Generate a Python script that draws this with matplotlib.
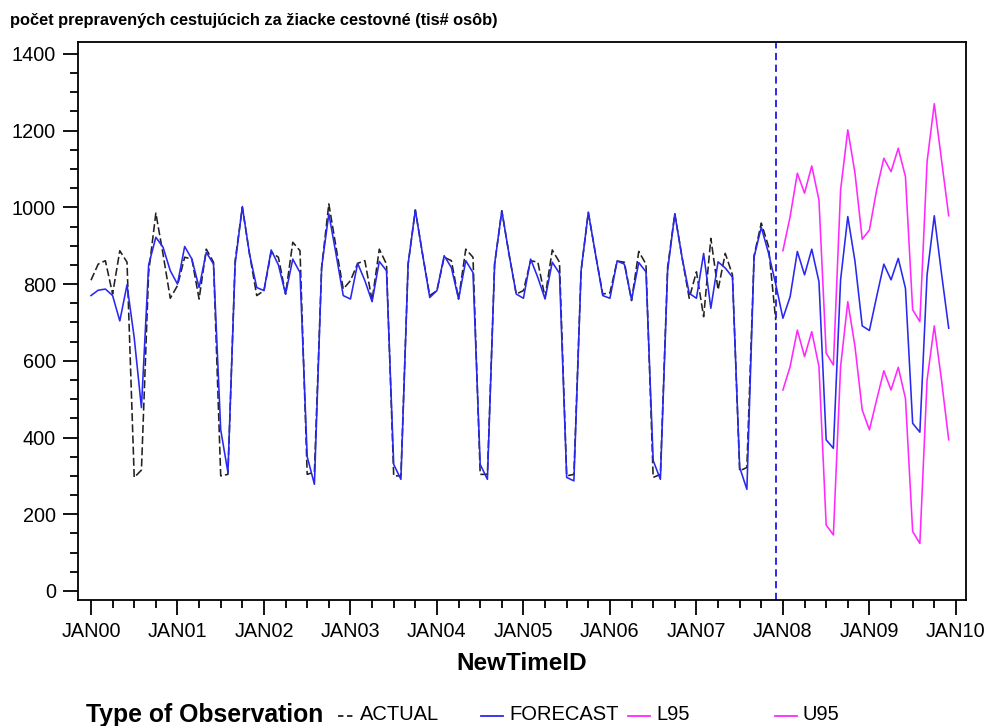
import matplotlib
matplotlib.use("Agg")
import matplotlib.pyplot as plt
from matplotlib.lines import Line2D
from matplotlib.ticker import MultipleLocator

plt.rcParams['font.family'] = ['Liberation Sans', 'DejaVu Sans']

# mesiace od JAN00 (index 0) po DEC09 (index 119)
year_labels = ['JAN00', 'JAN01', 'JAN02', 'JAN03', 'JAN04', 'JAN05',
               'JAN06', 'JAN07', 'JAN08', 'JAN09', 'JAN10']

# skutocne hodnoty JAN00 - DEC07
actual = [
    810, 852, 861, 774, 887, 857, 296, 315, 830, 985, 878, 763,   # 2000
    796, 870, 865, 761, 891, 857, 300, 304, 861, 1000, 878, 770,  # 2001
    783, 883, 870, 774, 909, 887, 304, 310, 843, 1009, 896, 787,  # 2002
    809, 854, 861, 757, 891, 852, 300, 300, 852, 993, 878, 770,   # 2003
    783, 870, 861, 761, 891, 870, 304, 304, 852, 991, 878, 774,   # 2004
    783, 861, 857, 765, 889, 857, 300, 304, 835, 987, 878, 774,   # 2005
    777, 860, 857, 757, 885, 852, 296, 304, 843, 983, 870, 763,   # 2006
    832, 715, 919, 785, 880, 824, 313, 322, 874, 959, 898, 706,   # 2007
]

# predpoved JAN00 - DEC09
forecast = [
    770, 784, 787, 770, 704, 798, 660, 478, 850, 922, 896, 835,   # 2000
    800, 898, 865, 791, 883, 852, 420, 309, 852, 1002, 878, 791,  # 2001
    783, 889, 850, 774, 865, 830, 350, 278, 843, 983, 878, 770,   # 2002
    761, 854, 809, 754, 859, 835, 330, 291, 852, 993, 878, 765,   # 2003
    783, 874, 843, 761, 861, 830, 330, 291, 852, 991, 878, 774,   # 2004
    763, 865, 817, 761, 857, 828, 296, 287, 835, 987, 878, 770,   # 2005
    763, 860, 852, 759, 856, 832, 340, 291, 835, 983, 870, 776,   # 2006
    763, 880, 737, 858, 842, 818, 322, 265, 871, 948, 881, 800,   # 2007
    711, 767, 885, 824, 891, 806, 394, 372, 811, 976, 859, 691,   # 2008
    679, 767, 852, 811, 867, 789, 437, 414, 824, 978, 828, 685,   # 2009
]

# 95% interval JAN08 - DEC09
l95 = [524, 585, 680, 611, 676, 585, 172, 146, 585, 754, 637, 472,
       420, 498, 574, 524, 583, 502, 155, 124, 550, 691, 550, 394]
u95 = [887, 976, 1089, 1037, 1108, 1019, 620, 589, 1045, 1202, 1089, 917,
       941, 1045, 1128, 1093, 1154, 1080, 733, 702, 1119, 1270, 1124, 978]

last_actual = len(actual) - 1

fig = plt.figure(figsize=(9.86, 7.26), dpi=100)
ax = fig.add_axes([78 / 986, 126 / 726, 888 / 986, 558 / 726])

ax.plot(range(len(actual)), actual, color='#222222', lw=1.15, ls=(0, (5, 2)))
ax.plot(range(len(forecast)), forecast, color='#2828f0', lw=1.15)
ax.plot(range(len(actual), len(forecast)), l95, color='#ff28ff', lw=1.15)
ax.plot(range(len(actual), len(forecast)), u95, color='#ff28ff', lw=1.15)
ax.axvline(last_actual, color='#1a1ae6', lw=1.3, ls=(0, (4, 2.5)))

ax.set_xlim(-1.8, 121.4)
ax.set_ylim(-23.5, 1431)
ax.set_xticks(range(0, 121, 12))
ax.set_xticklabels(year_labels)
ax.xaxis.set_minor_locator(MultipleLocator(3))
ax.yaxis.set_major_locator(MultipleLocator(200))
ax.yaxis.set_minor_locator(MultipleLocator(50))
ax.tick_params(which='major', length=11, width=1.3, labelsize=14.3, pad=5)
ax.tick_params(which='minor', length=6, width=1.3)
for s in ax.spines.values():
    s.set_linewidth(1.3)

ax.set_xlabel('NewTimeID', fontsize=17.5, fontweight='bold', labelpad=8)

fig.text(10 / 986, 1 - 20 / 726,
         'počet prepravených cestujúcich za žiacke cestovné (tis# osôb)',
         fontsize=11.8, fontweight='bold', va='center', ha='left')

# legenda
ly = 1 - 715 / 726
fig.text(86 / 986, ly, 'Type of Observation', fontsize=17.8, fontweight='bold', va='center')
legend_items = [
    (338, 354, '#222222', (0, (3, 2)), 'ACTUAL'),
    (481, 503, '#2828f0', '-', 'FORECAST'),
    (628, 650, '#ff28ff', '-', 'L95'),
    (775, 797, '#ff28ff', '-', 'U95'),
]
for x0, x1, col, style, lab in legend_items:
    fig.add_artist(Line2D([x0 / 986, x1 / 986], [ly - 0.002, ly - 0.002],
                          color=col, lw=1.3, ls=style, transform=fig.transFigure))
    fig.text((x1 + 6) / 986, ly, lab, fontsize=14.5, va='center')

fig.savefig('out.png', dpi=100)
